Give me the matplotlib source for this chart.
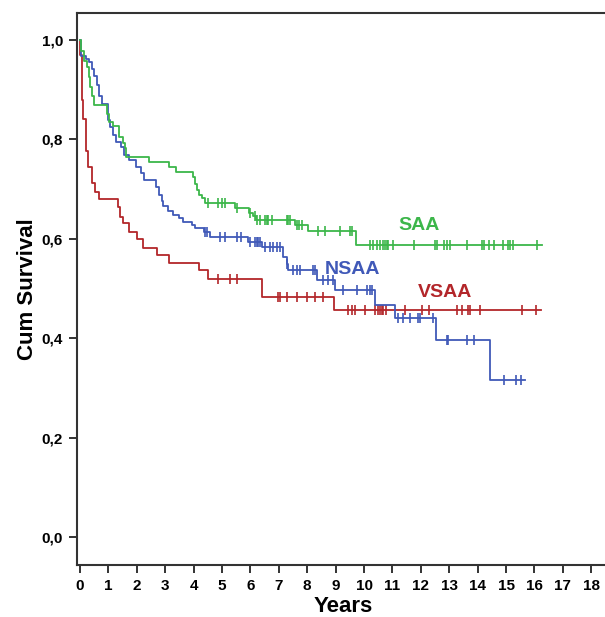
import numpy as np
import matplotlib
matplotlib.use('Agg')
import matplotlib.pyplot as plt

# event times (years) and survival after each drop
vsaa_t = [0.01, 0.06, 0.12, 0.21, 0.29, 0.42, 0.54, 0.66, 1.35, 1.42, 1.52, 1.73, 2.0,
          2.23, 2.70, 3.14, 4.20, 4.52, 6.41, 8.94]
vsaa_s = [0.97, 0.88, 0.84, 0.776, 0.745, 0.712, 0.695, 0.68, 0.664, 0.644, 0.632, 0.614, 0.60,
          0.581, 0.567, 0.551, 0.537, 0.52, 0.483, 0.457]
vsaa_cens = [4.87, 5.28, 5.53, 6.98, 7.04, 7.3, 7.63, 7.98, 8.27, 8.55, 9.45, 9.57, 9.68, 10.05,
             10.39, 10.5, 10.56, 10.62, 10.68, 10.78, 11.44, 12.03, 12.27, 13.26, 13.44, 13.67,
             13.73, 14.08, 15.55, 16.06]
vsaa_end = 16.22

nsaa_t = [0.05, 0.2, 0.32, 0.42, 0.5, 0.59, 0.66, 0.76, 0.97, 1.06, 1.17, 1.27, 1.44, 1.56,
          1.74, 1.97, 2.15, 2.26, 2.68, 2.77, 2.89, 2.93, 3.09, 3.26, 3.5, 3.62, 3.93, 4.05,
          4.36, 4.58, 5.93, 6.4, 7.16, 7.28, 7.34, 8.33, 8.98, 10.37, 11.1, 12.55, 14.42]
nsaa_s = [0.968, 0.962, 0.955, 0.942, 0.928, 0.91, 0.888, 0.871, 0.838, 0.824, 0.809, 0.795,
          0.785, 0.769, 0.759, 0.745, 0.732, 0.718, 0.705, 0.688, 0.675, 0.665, 0.655, 0.648,
          0.641, 0.634, 0.628, 0.621, 0.614, 0.604, 0.594, 0.584, 0.564, 0.55, 0.537, 0.517,
          0.497, 0.467, 0.44, 0.396, 0.317]
nsaa_cens = [4.4, 4.48, 4.93, 5.1, 5.52, 5.68, 5.99, 6.16, 6.22, 6.28, 6.34, 6.51, 6.69, 6.8,
             6.92, 7.04, 7.3, 7.51, 7.63, 7.75, 8.21, 8.27, 8.57, 8.74, 8.92, 9.27, 9.74, 10.1,
             10.21, 10.27, 11.2, 11.38, 11.62, 11.91, 11.97, 12.42, 12.91, 12.97, 13.64, 13.87,
             14.93, 15.35, 15.52]
nsaa_end = 15.67

saa_t = [0.035, 0.15, 0.25, 0.31, 0.35, 0.42, 0.5, 0.95, 1.03, 1.15, 1.38, 1.5, 1.6, 1.62,
         2.44, 3.14, 3.38, 3.99, 4.05, 4.11, 4.2, 4.29, 4.4, 5.45, 5.95, 6.08, 6.2, 7.57, 8.04,
         9.7]
saa_s = [0.978, 0.958, 0.945, 0.925, 0.905, 0.888, 0.868, 0.851, 0.834, 0.826, 0.805, 0.792,
         0.782, 0.765, 0.755, 0.745, 0.735, 0.725, 0.711, 0.698, 0.688, 0.681, 0.671, 0.661,
         0.651, 0.645, 0.638, 0.628, 0.615, 0.588]
saa_cens = [4.52, 4.87, 4.99, 5.1, 5.54, 5.99, 6.16, 6.22, 6.34, 6.51, 6.57, 6.63, 6.75, 7.28,
            7.34, 7.39, 7.63, 7.72, 7.8, 8.39, 8.63, 9.15, 9.51, 9.57, 10.21, 10.33, 10.45,
            10.56, 10.68, 10.74, 10.8, 10.86, 11.03, 11.77, 12.5, 12.56, 12.82, 12.91, 13.03,
            13.64, 14.14, 14.23, 14.41, 14.58, 14.9, 15.08, 15.14, 15.26, 16.1]
saa_end = 16.26

groups = ['SAA', 'NSAA', 'VSAA']
label_pos = {'SAA': (11.94, 0.626), 'NSAA': (9.58, 0.539), 'VSAA': (12.85, 0.492)}
colors = {'SAA': '#3cb64a', 'NSAA': '#4059b8', 'VSAA': '#b3262a'}
FONT = 'Liberation Sans'


def km_curve(ax, t, s, cens, end, color):
    t = np.asarray(t)
    s = np.asarray(s)
    xs = np.concatenate([[0.0], t, [end]])
    ys = np.concatenate([[1.0], s, [s[-1]]])
    ax.step(xs, ys, where='post', color=color, lw=1.3)
    # censored cases sit on the curve
    cens = np.asarray(cens)
    idx = np.searchsorted(t, cens, side='right')
    cy = np.concatenate([[1.0], s])[idx]
    ax.plot(cens, cy, ls='none', marker='|', ms=7.5, mew=1.2, color=color)


fig = plt.figure(figsize=(6.05, 6.17), dpi=100)
ax = fig.add_axes([77 / 605, 52 / 617, 533 / 605, 552 / 617])

km_curve(ax, vsaa_t, vsaa_s, vsaa_cens, vsaa_end, colors['VSAA'])
km_curve(ax, nsaa_t, nsaa_s, nsaa_cens, nsaa_end, colors['NSAA'])
km_curve(ax, saa_t, saa_s, saa_cens, saa_end, colors['SAA'])

for g in groups:
    x, y = label_pos[g]
    ax.text(x, y, g, color=colors[g], fontsize=14, fontweight='bold',
            family=FONT, ha='center', va='center')

ax.set_xlim(-0.106, 18.66)
ax.set_ylim(-0.056, 1.054)
ax.set_xticks(range(0, 19))
ax.set_yticks([0.0, 0.2, 0.4, 0.6, 0.8, 1.0])
ax.set_yticklabels(['0,0', '0,2', '0,4', '0,6', '0,8', '1,0'])
for lab in ax.get_xticklabels() + ax.get_yticklabels():
    lab.set_fontweight('bold')
    lab.set_family(FONT)
    lab.set_fontsize(11)
ax.tick_params(direction='out', length=6, width=1.4, color='#333333', pad=4)
ax.spines['right'].set_visible(False)
for sp in ['left', 'bottom', 'top']:
    ax.spines[sp].set_linewidth(1.5)
    ax.spines[sp].set_color('#333333')

ax.set_xlabel('Years', fontsize=16, fontweight='bold', family=FONT, labelpad=2.5)
ax.set_ylabel('Cum Survival', fontsize=16, fontweight='bold', family=FONT, labelpad=3)

fig.savefig('out.png', dpi=100)
